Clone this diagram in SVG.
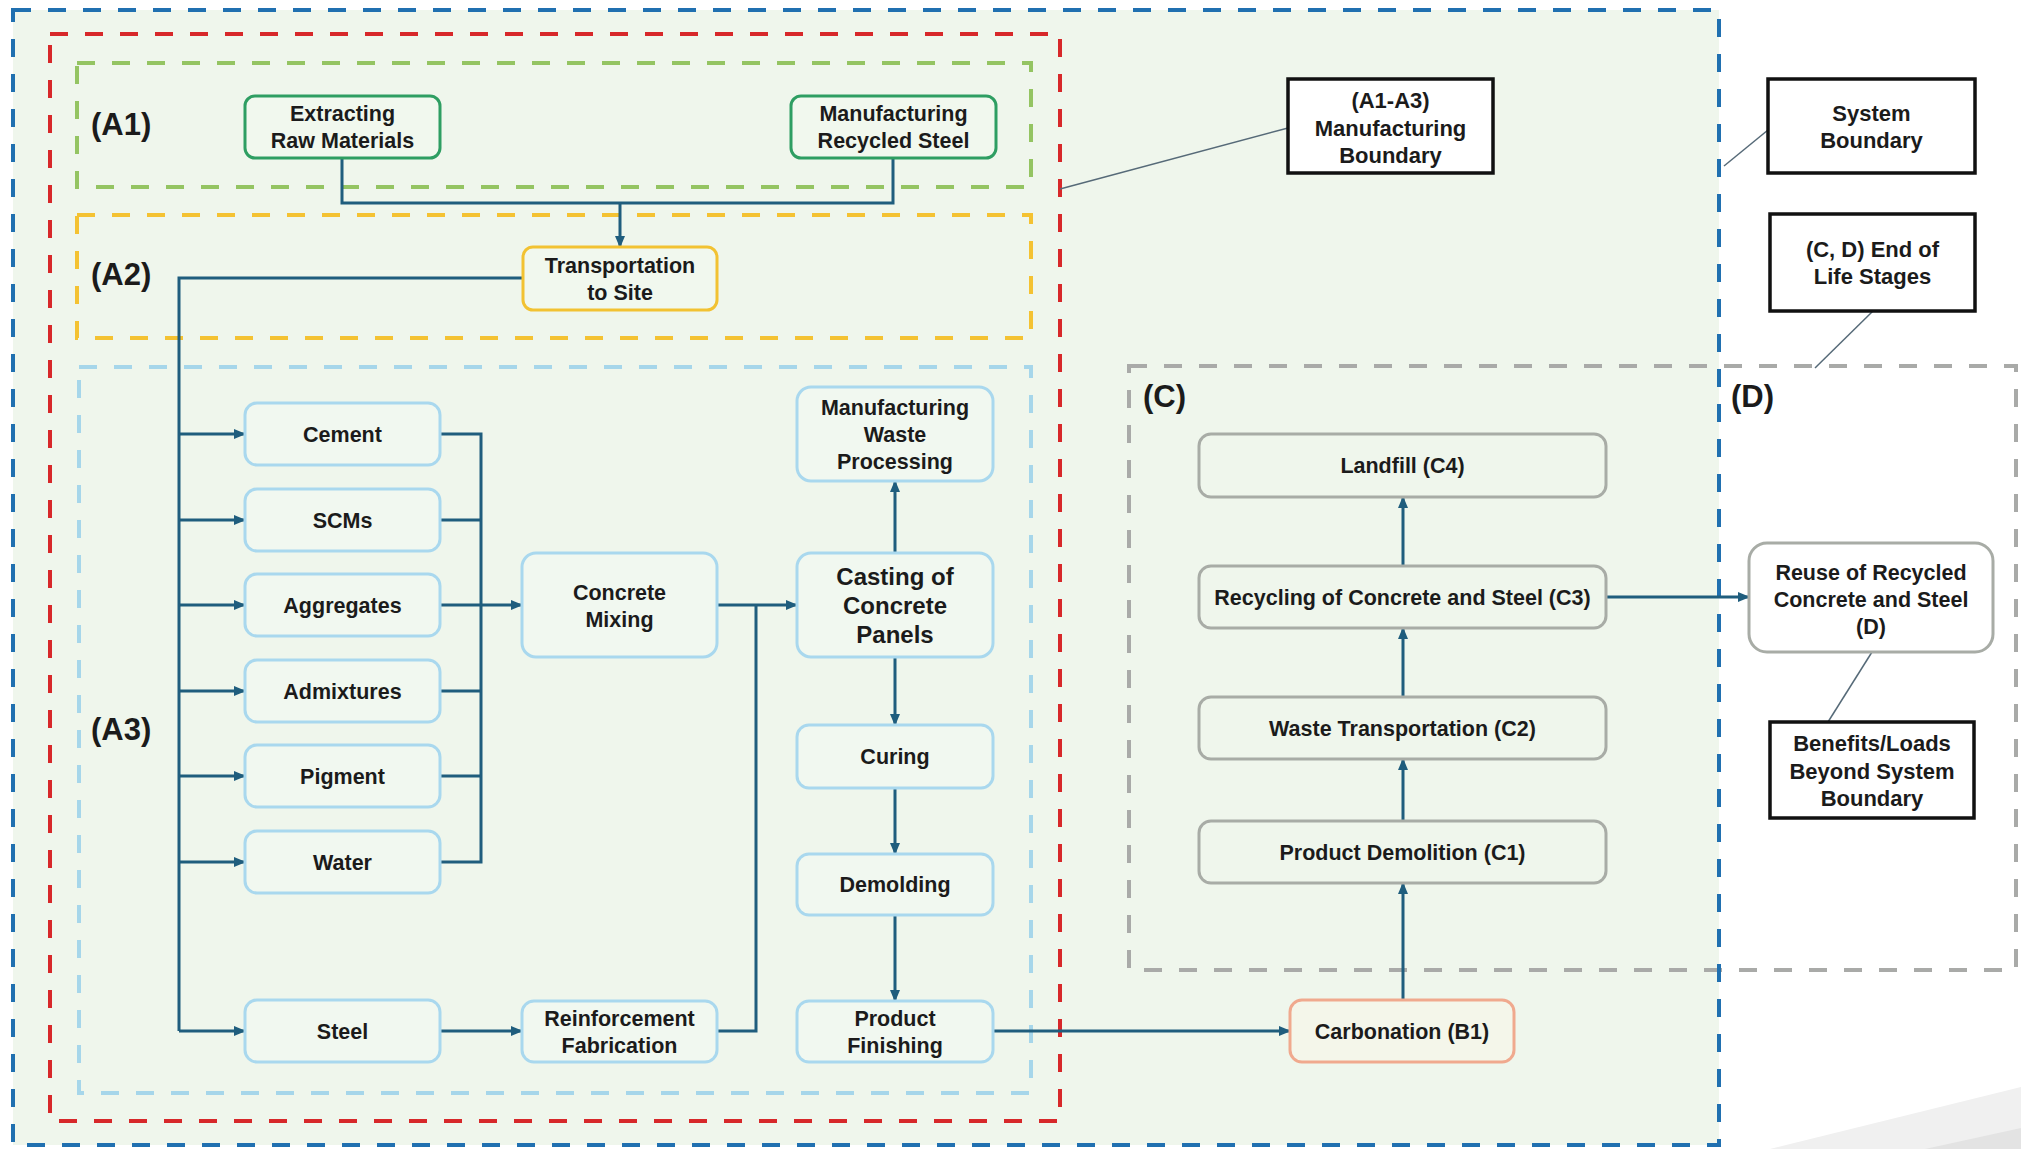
<svg xmlns="http://www.w3.org/2000/svg" width="2021" height="1149" viewBox="0 0 2021 1149">
<defs>
<marker id="ah" viewBox="0 0 12 10" refX="11" refY="5" markerWidth="12" markerHeight="10" markerUnits="userSpaceOnUse" orient="auto">
<path d="M0,0 L12,5 L0,10 z" fill="#1f5d7d"/>
</marker>
<style>
text{font-family:"Liberation Sans",Arial,sans-serif;font-weight:bold;fill:#1b1b1b}
.t{font-size:21.5px;text-anchor:middle}
.tc{font-size:22px;text-anchor:middle}
.tb{font-size:24px;text-anchor:middle}
.sec{font-size:31px}
.bnd{fill:none;stroke-width:4;stroke-dasharray:18 17}
.nb{fill:#f1f8f0;stroke:#a9d8ee;stroke-width:3}
.ng{fill:#f1f8ee;stroke:#2e9e62;stroke-width:3}
.ny{fill:#f1f8ee;stroke:#f2c232;stroke-width:3}
.nc{fill:#eff6ec;stroke:#a8aca6;stroke-width:3}
.no{fill:#f4f6ea;stroke:#f0a98e;stroke-width:3}
.nd{fill:#ffffff;stroke:#a8aca6;stroke-width:3}
.call{fill:#ffffff;stroke:#111111;stroke-width:3.5}
.conn{fill:none;stroke:#1f5d7d;stroke-width:3}
.arr{marker-end:url(#ah)}
.lead{fill:none;stroke:#566a78;stroke-width:1.5}
</style>
</defs>
<rect x="0" y="0" width="2021" height="1149" fill="#ffffff"/>
<polygon points="1770,1149 2021,1087 2021,1149" fill="#f0f0f0"/>
<polygon points="1925,1149 2021,1128 2021,1149" fill="#e3e3e3"/>
<g id="boundaries">
<rect x="13" y="10" width="1706" height="1135" fill="#eff6ec" stroke="none"/>
<rect x="1129" y="366" width="887" height="604" class="bnd" stroke="#a9aaa8"/>
<rect x="13" y="10" width="1706" height="1135" class="bnd" stroke="#2070b0"/>
<rect x="50" y="34" width="1010" height="1087" class="bnd" stroke="#d7282a" stroke-width="4.5"/>
<rect x="77" y="63" width="954" height="124" class="bnd" stroke="#94c462" stroke-dasharray="13 22"/>
<rect x="77" y="215" width="954" height="123" class="bnd" stroke="#f4c232"/>
<rect x="79" y="367" width="952" height="726" class="bnd" stroke="#a6d6ea" stroke-width="3"/>
<text x="91" y="135" class="sec">(A1)</text>
<text x="91" y="285" class="sec">(A2)</text>
<text x="91" y="740" class="sec">(A3)</text>
<text x="1143" y="407" class="sec">(C)</text>
<text x="1731" y="407" class="sec">(D)</text>
</g>
<g id="connectors">
<polyline class="conn" points="342,158 342,203 893,203 893,158"/>
<line class="conn arr" x1="620" y1="203" x2="620" y2="247"/>
<polyline class="conn" points="523,278 179,278 179,1031"/>
<line class="conn arr" x1="179" y1="434" x2="245" y2="434"/>
<line class="conn arr" x1="179" y1="520" x2="245" y2="520"/>
<line class="conn arr" x1="179" y1="605" x2="245" y2="605"/>
<line class="conn arr" x1="179" y1="691" x2="245" y2="691"/>
<line class="conn arr" x1="179" y1="776" x2="245" y2="776"/>
<line class="conn arr" x1="179" y1="862" x2="245" y2="862"/>
<line class="conn arr" x1="179" y1="1031" x2="245" y2="1031"/>
<polyline class="conn" points="440,434 481,434 481,862 440,862"/>
<line class="conn" x1="440" y1="520" x2="481" y2="520"/>
<line class="conn" x1="440" y1="691" x2="481" y2="691"/>
<line class="conn" x1="440" y1="776" x2="481" y2="776"/>
<line class="conn arr" x1="440" y1="605" x2="522" y2="605"/>
<line class="conn arr" x1="717" y1="605" x2="797" y2="605"/>
<polyline class="conn" points="717,1031 756,1031 756,605"/>
<line class="conn arr" x1="440" y1="1031" x2="522" y2="1031"/>
<line class="conn arr" x1="895" y1="553" x2="895" y2="481"/>
<line class="conn arr" x1="895" y1="657" x2="895" y2="725"/>
<line class="conn arr" x1="895" y1="788" x2="895" y2="854"/>
<line class="conn arr" x1="895" y1="915" x2="895" y2="1001"/>
<line class="conn arr" x1="993" y1="1031" x2="1290" y2="1031"/>
<line class="conn arr" x1="1403" y1="1000" x2="1403" y2="883"/>
<line class="conn arr" x1="1403" y1="821" x2="1403" y2="759"/>
<line class="conn arr" x1="1403" y1="697" x2="1403" y2="628"/>
<line class="conn arr" x1="1403" y1="566" x2="1403" y2="497"/>
<line class="conn arr" x1="1606" y1="597" x2="1749" y2="597"/>
<line class="lead" x1="1288" y1="128" x2="1060" y2="189"/>
<line class="lead" x1="1768" y1="130" x2="1724" y2="166"/>
<line class="lead" x1="1873" y1="311" x2="1815" y2="368"/>
<line class="lead" x1="1828" y1="722" x2="1872" y2="652"/>
</g>
<g id="n-extracting"><rect class="ng" x="245" y="96" width="195" height="62" rx="10"/><text class="t" x="342.5" y="121">Extracting</text><text class="t" x="342.5" y="148">Raw Materials</text></g>
<g id="n-recycled-steel"><rect class="ng" x="791" y="96" width="205" height="62" rx="10"/><text class="t" x="893.5" y="121">Manufacturing</text><text class="t" x="893.5" y="148">Recycled Steel</text></g>
<g id="n-transport"><rect class="ny" x="523" y="247" width="194" height="63" rx="10"/><text class="t" x="620" y="272.5">Transportation</text><text class="t" x="620" y="299.5">to Site</text></g>
<g id="n-cement"><rect class="nb" x="245" y="403" width="195" height="62" rx="12"/><text class="t" x="342.5" y="441.7">Cement</text></g>
<g id="n-scms"><rect class="nb" x="245" y="489" width="195" height="62" rx="12"/><text class="t" x="342.5" y="527.7">SCMs</text></g>
<g id="n-aggregates"><rect class="nb" x="245" y="574" width="195" height="62" rx="12"/><text class="t" x="342.5" y="612.7">Aggregates</text></g>
<g id="n-admixtures"><rect class="nb" x="245" y="660" width="195" height="62" rx="12"/><text class="t" x="342.5" y="698.7">Admixtures</text></g>
<g id="n-pigment"><rect class="nb" x="245" y="745" width="195" height="62" rx="12"/><text class="t" x="342.5" y="783.7">Pigment</text></g>
<g id="n-water"><rect class="nb" x="245" y="831" width="195" height="62" rx="12"/><text class="t" x="342.5" y="869.7">Water</text></g>
<g id="n-steel"><rect class="nb" x="245" y="1000" width="195" height="62" rx="12"/><text class="t" x="342.5" y="1038.7">Steel</text></g>
<g id="n-mixing"><rect class="nb" x="522" y="553" width="195" height="104" rx="14"/><text class="t" x="619.5" y="599.5">Concrete</text><text class="t" x="619.5" y="626.5">Mixing</text></g>
<g id="n-reinforcement"><rect class="nb" x="522" y="1001" width="195" height="61" rx="12"/><text class="t" x="619.5" y="1025.5">Reinforcement</text><text class="t" x="619.5" y="1052.5">Fabrication</text></g>
<g id="n-waste-processing"><rect class="nb" x="797" y="387" width="196" height="94" rx="14"/><text class="t" x="895" y="415">Manufacturing</text><text class="t" x="895" y="442">Waste</text><text class="t" x="895" y="469">Processing</text></g>
<g id="n-casting"><rect class="nb" x="797" y="553" width="196" height="104" rx="14"/><text class="tb" x="895" y="585">Casting of</text><text class="tb" x="895" y="614">Concrete</text><text class="tb" x="895" y="643">Panels</text></g>
<g id="n-curing"><rect class="nb" x="797" y="725" width="196" height="63" rx="12"/><text class="t" x="895" y="764">Curing</text></g>
<g id="n-demolding"><rect class="nb" x="797" y="854" width="196" height="61" rx="12"/><text class="t" x="895" y="892">Demolding</text></g>
<g id="n-finishing"><rect class="nb" x="797" y="1001" width="196" height="61" rx="12"/><text class="t" x="895" y="1025.5">Product</text><text class="t" x="895" y="1052.5">Finishing</text></g>
<g id="n-carbonation"><rect class="no" x="1290" y="1000" width="224" height="62" rx="12"/><text class="t" x="1402" y="1038.7">Carbonation (B1)</text></g>
<g id="n-landfill"><rect class="nc" x="1199" y="434" width="407" height="63" rx="12"/><text class="t" x="1402.5" y="473">Landfill (C4)</text></g>
<g id="n-recycling"><rect class="nc" x="1199" y="566" width="407" height="62" rx="12"/><text class="t" x="1402.5" y="604.7">Recycling of Concrete and Steel (C3)</text></g>
<g id="n-waste-transport"><rect class="nc" x="1199" y="697" width="407" height="62" rx="12"/><text class="t" x="1402.5" y="735.7">Waste Transportation (C2)</text></g>
<g id="n-demolition"><rect class="nc" x="1199" y="821" width="407" height="62" rx="12"/><text class="t" x="1402.5" y="859.7">Product Demolition (C1)</text></g>
<g id="n-reuse"><rect class="nd" x="1749" y="543" width="244" height="109" rx="18"/><text class="t" x="1871" y="580">Reuse of Recycled</text><text class="t" x="1871" y="607">Concrete and Steel</text><text class="t" x="1871" y="634">(D)</text></g>
<g id="c-manufacturing-boundary"><rect class="call" x="1288" y="79" width="205" height="94"/><text class="tc" x="1390.5" y="108">(A1-A3)</text><text class="tc" x="1390.5" y="135.5">Manufacturing</text><text class="tc" x="1390.5" y="163">Boundary</text></g>
<g id="c-system-boundary"><rect class="call" x="1768" y="79" width="207" height="94"/><text class="tc" x="1871.5" y="120.5">System</text><text class="tc" x="1871.5" y="148">Boundary</text></g>
<g id="c-end-of-life"><rect class="call" x="1770" y="214" width="205" height="97"/><text class="tc" x="1872.5" y="256.5">(C, D) End of</text><text class="tc" x="1872.5" y="284">Life Stages</text></g>
<g id="c-beyond"><rect class="call" x="1770" y="722" width="204" height="96"/><text class="tc" x="1872" y="751">Benefits/Loads</text><text class="tc" x="1872" y="778.5">Beyond System</text><text class="tc" x="1872" y="806">Boundary</text></g>
</svg>
